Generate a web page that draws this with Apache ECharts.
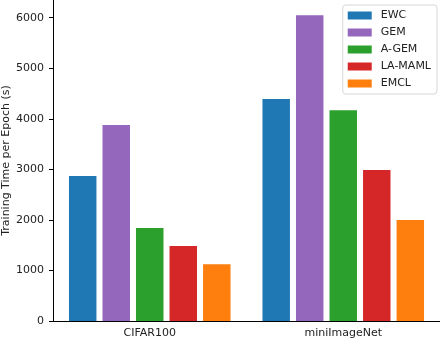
<!DOCTYPE html>
<html>
<head>
<meta charset="utf-8">
<script src="https://cdn.jsdelivr.net/npm/echarts@6/dist/echarts.min.js"></script>
<style>
  html, body { margin: 0; padding: 0; background: #fff; }
</style>
</head>
<body>
<div id="chart" style="width: 440px; height: 340px"></div>
<script>
const datasets = ["CIFAR100", "miniImageNet"];
const methods = ["EWC", "GEM", "A-GEM", "LA-MAML", "EMCL"];
const colors = ["#1f77b4", "#9467bd", "#2ca02c", "#d62728", "#ff7f0e"];
// training time per epoch (s), one array per method: [CIFAR100, miniImageNet]
const ewc = [2870, 4390];
const gem = [3875, 6050];
const agem = [1840, 4170];
const lamaml = [1485, 2985];
const emcl = [1125, 2000];
const yTicks = [0, 1000, 2000, 3000, 4000, 5000, 6000];

const values = [ewc, gem, agem, lamaml, emcl];
const font = "DejaVu Sans";

const chart = echarts.init(document.getElementById("chart"));

const series = methods.map((name, i) => ({
  name: name,
  type: "bar",
  data: values[i],
  barWidth: "14.2%",
  barGap: "22%",
  barCategoryGap: "18%",
  itemStyle: { color: colors[i] },
}));

const option = {
  animation: false,
  textStyle: { fontFamily: font },
  grid: { left: 53, right: 0, top: 0, bottom: 19, outerBoundsMode: "none", containLabel: false },
  legend: {
    data: methods,
    orient: "vertical",
    right: 3,
    top: 5,
    itemWidth: 24,
    itemHeight: 8,
    itemGap: 4,
    padding: [4, 6, 4, 5],
    borderColor: "#d6d6d6",
    borderWidth: 1,
    borderRadius: 3,
    backgroundColor: "rgba(255,255,255,0.8)",
    icon: "rect",
    textStyle: {
      fontFamily: font,
      fontSize: 11,
      color: "#222",
      lineHeight: 13,
      padding: [0, 0, 0, 4],
    },
  },
  xAxis: {
    type: "category",
    data: datasets,
    axisLine: { lineStyle: { color: "#000", width: 1 } },
    axisTick: { alignWithLabel: true, length: 4, lineStyle: { color: "#000" } },
    axisLabel: { fontFamily: font, fontSize: 11, color: "#222", margin: 7 },
  },
  yAxis: {
    type: "value",
    min: 0,
    max: 6350,
    interval: 1000,
    name: "Training Time per Epoch (s)",
    nameLocation: "middle",
    nameGap: 41,
    nameMoveOverlap: false,
    nameTextStyle: { fontFamily: font, fontSize: 11, color: "#222" },
    splitLine: { show: false },
    axisLine: { show: true, lineStyle: { color: "#000", width: 1 } },
    axisTick: { show: true, length: 4, lineStyle: { color: "#000" } },
    axisLabel: {
      fontFamily: font,
      fontSize: 11,
      color: "#222",
      margin: 9,
      showMaxLabel: false,
      formatter: (v) => (yTicks.includes(v) ? String(v) : ""),
    },
  },
  series: series,
};

chart.setOption(option);
</script>
</body>
</html>
